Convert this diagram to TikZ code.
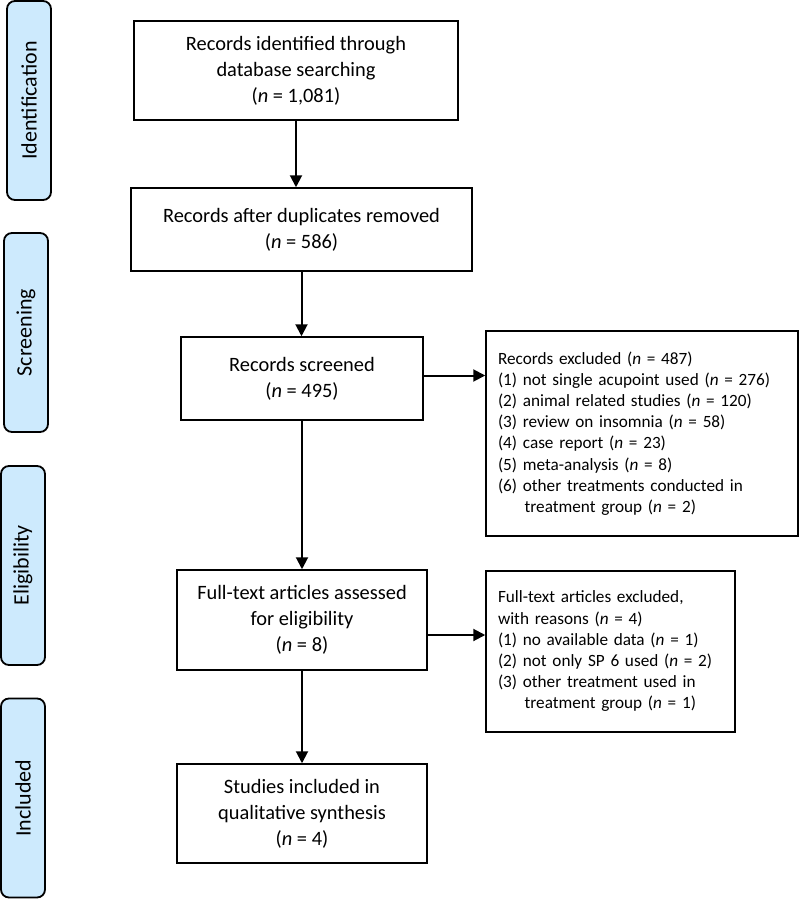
\documentclass[tikz,border=0pt]{standalone}
\usepackage{fontspec}
\setmainfont{Carlito}
\usetikzlibrary{arrows.meta}

\definecolor{stagefill}{RGB}{205,234,253}
\newcommand{\ncount}[1]{(\textit{n} = #1)}

\tikzset{
  stage/.style={draw, line width=0.9pt, fill=stagefill, rounded corners=4pt, rotate=90,
    minimum width=99.5pt, minimum height=22pt, inner sep=0pt, font=\fontsize{11}{12}\selectfont},
  flowbox/.style={draw, line width=0.75pt, align=center, inner sep=2pt,
    font=\fontsize{10.2}{13}\selectfont},
  exbox/.style={draw, line width=0.75pt, align=left, inner sep=6pt,
    font=\fontsize{8.6}{10.6}\selectfont},
  flow/.style={line width=1pt, -{Triangle[length=6pt,width=6pt]}}
}

\begin{document}
\begin{tikzpicture}[x=0.5pt,y=-0.5pt]
  \useasboundingbox (0,0) rectangle (800,899);

	% Stages
	\node[stage] (ident) at (29,100.5) {Identification};
	\node[stage] (screen) at (26,332.5) {Screening};
	\node[stage] (elig) at (23,565.5) {Eligibility};
	\node[stage] (incl) at (23,798) {Included};

	% Main boxes
	\node[flowbox, minimum width=162pt, minimum height=49.5pt] (found) at (296,70.5)
		{Records identified through\\database searching\\\ncount{1,081}};
	\node[flowbox, minimum width=170.5pt, minimum height=41.5pt] (dedup) at (301.5,229.5)
		{Records after duplicates removed\\\ncount{586}};
	\node[flowbox, minimum width=121pt, minimum height=41.5pt] (screened) at (302,378.5)
		{Records screened\\\ncount{495}};
	\node[flowbox, minimum width=125pt, minimum height=50pt] (fulltext) at (302,620)
		{Full-text articles assessed\\for eligibility\\\ncount{8}};
	\node[flowbox, minimum width=125pt, minimum height=49.5pt] (included) at (302,813.5)
		{Studies included in\\qualitative synthesis\\\ncount{4}};

	% Exclusions
	\node[exbox, text width=144pt, minimum height=102.5pt] (excl) at (642,433.5)
		{Records excluded \ncount{487}\\
		(1) not single acupoint used \ncount{276}\\
		(2) animal related studies \ncount{120}\\
		(3) review on insomnia \ncount{58}\\
		(4) case report \ncount{23}\\
		(5) meta-analysis \ncount{8}\\
		(6) other treatments conducted in\\
		\hspace*{1.55em}treatment group \ncount{2}};
	\node[exbox, text width=112.5pt, minimum height=80.5pt] (fullexcl) at (610.5,651.5)
		{Full-text articles excluded,\\
		with reasons \ncount{4}\\
		(1) no available data \ncount{1}\\
		(2) not only SP 6 used \ncount{2}\\
		(3) other treatment used in\\
		\hspace*{1.55em}treatment group \ncount{1}};

	% Arrows
	\draw[flow] (found.south) -- (found.south |- dedup.north);
	\draw[flow] (dedup.south) -- (dedup.south |- screened.north);
	\draw[flow] (screened.south) -- (fulltext.north);
	\draw[flow] (fulltext.south) -- (included.north);
	\draw[flow] ([yshift=1.5pt]screened.east) -- ([yshift=1.5pt]screened.east -| excl.west);
	\draw[flow] ([yshift=-7.5pt]fulltext.east) -- ([yshift=-7.5pt]fulltext.east -| fullexcl.west);
\end{tikzpicture}
\end{document}
